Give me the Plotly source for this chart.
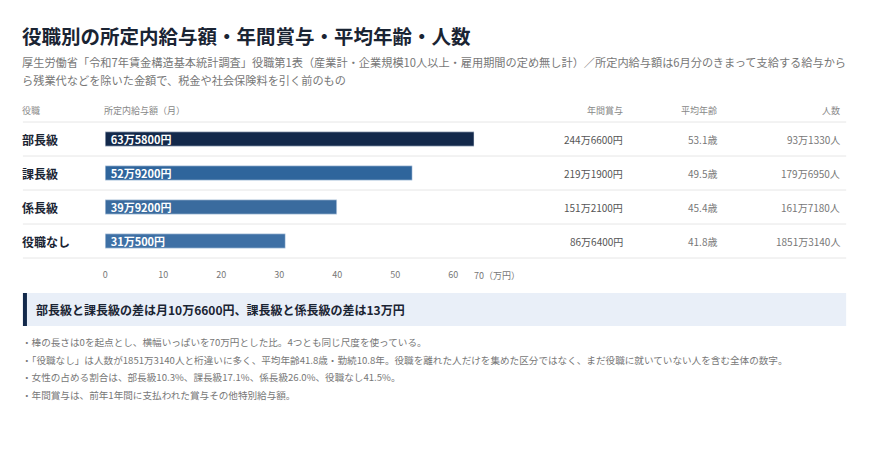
import plotly.graph_objects as go

# データ
roles = ["部長級", "課長級", "係長級", "役職なし"]
salary = [63.58, 52.92, 39.92, 31.05]  # 万円
salary_labels = ["63万5800円", "52万9200円", "39万9200円", "31万500円"]
bonus = ["244万6600円", "219万1900円", "151万2100円", "86万6400円"]
age = ["53.1歳", "49.5歳", "45.4歳", "41.8歳"]
people = ["93万1330人", "179万6950人", "161万7180人", "1851万3140人"]
bar_colors = ["#13294b", "#2f659c", "#3a6b9e", "#3e70a5"]
x_ticks = [0, 10, 20, 30, 40, 50, 60]
notes = [
    "・棒の長さは0を起点とし、横幅いっぱいを70万円とした比。4つとも同じ尺度を使っている。",
    "・「役職なし」は人数が1851万3140人と桁違いに多く、平均年齢41.8歳・勤続10.8年。役職を離れた人だけを集めた区分ではなく、まだ役職に就いていない人を含む全体の数字。",
    "・女性の占める割合は、部長級10.3%、課長級17.1%、係長級26.0%、役職なし41.5%。",
    "・年間賞与は、前年1年間に支払われた賞与その他特別給与額。",
]

W, H = 870, 464
FONT = "Noto Sans CJK JP"


# 画面上の座標(px)を paper 座標へ (表示時のずれを補正)
def px(x):
    return ((x - 11.1) / 0.995) / W


def py(y):
    return 1 - (y - 8) / H


fig = go.Figure()
fig.add_trace(go.Bar(
    x=salary, y=roles, orientation="h", marker_color=bar_colors, width=0.42,
    text=[f"<b> {s}</b>" for s in salary_labels], textposition="inside", insidetextanchor="start",
    textfont=dict(color="white", size=11, family=FONT), hoverinfo="skip",
))

fig.update_layout(
    width=W, height=H, margin=dict(l=0, r=0, t=0, b=0),
    paper_bgcolor="white", plot_bgcolor="white", showlegend=False,
    font=dict(family=FONT, color="#333"),
    xaxis=dict(domain=[px(106), px(511)], range=[0, 70], tickvals=x_ticks,
               showgrid=False, zeroline=False, showline=False, ticklabelstandoff=10,
               tickfont=dict(size=9, color="#777"), ticks=""),
    yaxis=dict(domain=[py(258), py(122)], range=[3.5, -0.5], showticklabels=False,
               showgrid=False, zeroline=False),
    uniformtext=dict(minsize=8, mode="show"),
)

ann = []
ann.append(dict(x=px(21), y=py(36), text="<b>役職別の所定内給与額・年間賞与・平均年齢・人数</b>",
                font=dict(size=19.5, color="#1a2433")))
ann.append(dict(x=px(21), y=py(62), font=dict(size=11.2, color="#777"),
                text="厚生労働省「令和7年賃金構造基本統計調査」役職第1表（産業計・企業規模10人以上・雇用期間の定め無し計）／所定内給与額は6月分のきまって支給する給与から"))
ann.append(dict(x=px(21), y=py(80), font=dict(size=11.2, color="#777"),
                text="ら残業代などを除いた金額で、税金や社会保険料を引く前のもの"))
for x, t, anc in [(21, "役職", "left"), (103, "所定内給与額（月）", "left"),
                  (624, "年間賞与", "right"), (718, "平均年齢", "right"), (841, "人数", "right")]:
    ann.append(dict(x=px(x), y=py(110), text=t, xanchor=anc, font=dict(size=9, color="#888")))
for i, r in enumerate(roles):
    yy = py(139 + 34 * i)
    ann.append(dict(x=px(21), y=yy, text=f"<b>{r}</b>", font=dict(size=12, color="#1a2433")))
    ann.append(dict(x=px(624), y=yy, text=bonus[i], xanchor="right", font=dict(size=10, color="#555")))
    ann.append(dict(x=px(718), y=yy, text=age[i], xanchor="right", font=dict(size=10, color="#777")))
    ann.append(dict(x=px(841), y=yy, text=people[i], xanchor="right", font=dict(size=10, color="#777")))
ann.append(dict(x=px(522), y=py(275), text="70（万円）", xanchor="right", font=dict(size=9, color="#777")))
ann.append(dict(x=px(35), y=py(309), text="<b>部長級と課長級の差は月10万6600円、課長級と係長級の差は13万円</b>",
                font=dict(size=12, color="#1a2433")))
for i, n in enumerate(notes):
    ann.append(dict(x=px(21), y=py(342 + 17.5 * i), text=n, font=dict(size=9.6, color="#777")))
for a in ann:
    a.setdefault("xanchor", "left")
    a.update(xref="paper", yref="paper", yanchor="middle", showarrow=False)
fig.update_layout(annotations=ann)

shapes = []
for y in [122, 156, 190, 224, 258]:
    shapes.append(dict(type="line", xref="paper", yref="paper", x0=px(24), x1=px(845),
                       y0=py(y), y1=py(y), line=dict(color="#e6e6e6", width=1)))
shapes.append(dict(type="rect", xref="paper", yref="paper", x0=px(24), x1=px(845),
                   y0=py(326), y1=py(293), fillcolor="#e9eff8", line_width=0, layer="below"))
shapes.append(dict(type="rect", xref="paper", yref="paper", x0=px(24), x1=px(28),
                   y0=py(326), y1=py(293), fillcolor="#13294b", line_width=0))
fig.update_layout(shapes=shapes)

fig.write_html("out.html")
